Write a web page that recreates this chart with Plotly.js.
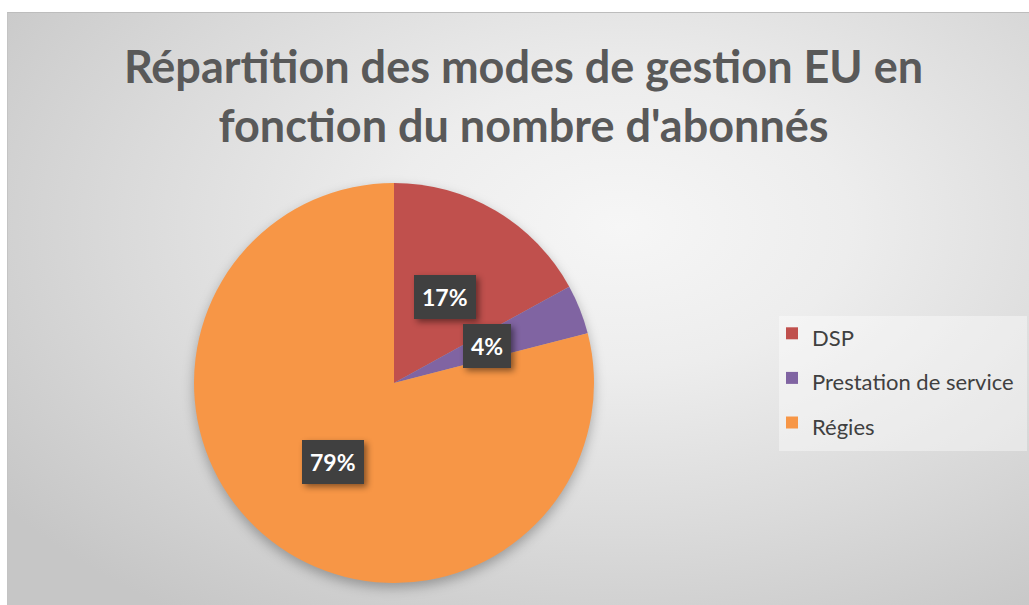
<!DOCTYPE html>
<html>
<head>
<meta charset="utf-8">
<script src="https://cdn.plot.ly/plotly-3.0.1.min.js"></script>
<style>
  html, body { margin: 0; padding: 0; background: #ffffff; }
  #wrap { position: relative; width: 1029px; height: 605px; overflow: hidden; }
  #bg { position: absolute; left: 7px; top: 12px; width: 1022px; height: 593px;
        background: radial-gradient(ellipse 75% 80% at 60% 36%, #f6f6f6 0%, #ededed 30%, #dadada 65%, #c6c6c6 100%);
        border-top: 1px solid #bdbdbd; border-left: 1px solid #c4c4c4; box-sizing: border-box; }
  #chart { position: absolute; left: 0; top: 0; width: 1029px; height: 605px; }
  .pielayer g.trace { filter: drop-shadow(0px 5px 6px rgba(0,0,0,0.28)); }
  g.annotation rect.bg { filter: drop-shadow(3px 3px 3px rgba(0,0,0,0.45)); }
</style>
</head>
<body>
<div id="wrap"><div id="bg"></div><div id="chart"></div></div>
<script>
// ---- data ----
const categories = ['DSP', 'Prestation de service', 'Régies'];
const values = [17, 4, 79];
const colors = ['#C0504D', '#8064A2', '#F79646'];
const titleText = "Répartition des modes de gestion EU en<br>fonction du nombre d'abonnés";

// ---- layout geometry ----
const W = 1029, H = 605;
const cx = 394, cy = 383, R = 200;
const domX = [(cx - R) / W, (cx + R) / W];
const domY = [1 - (cy + R) / H, 1 - (cy - R) / H];

// label annotations positioned from the data (angle of each slice middle, at half radius)
const total = values.reduce((a, b) => a + b, 0);
let cum = 0;
const annotations = values.map((v, i) => {
  const mid = (cum + v / 2) / total * 2 * Math.PI;
  cum += v;
  const r = 0.5 * R;
  const px = cx + r * Math.sin(mid);
  const py = cy - r * Math.cos(mid);
  return {
    x: px / W, y: 1 - py / H, xref: 'paper', yref: 'paper',
    text: '<b>' + Math.round(v / total * 100) + '%</b>',
    showarrow: false,
    font: { family: 'Lato, "Open Sans", sans-serif', size: 23, color: '#ffffff' },
    bgcolor: '#404040', borderpad: 8, borderwidth: 0,
    xanchor: 'center', yanchor: 'middle'
  };
});

const legendLabels = categories.map(c => '<span style="font-size:22px">' + c + '</span>');

const data = [{
  type: 'pie',
  labels: legendLabels,
  values: values,
  marker: { colors: colors, line: { width: 0 } },
  sort: false,
  direction: 'clockwise',
  rotation: 0,
  textinfo: 'none',
  hoverinfo: 'label+percent',
  domain: { x: domX, y: domY }
}];

const layout = {
  width: W, height: H,
  margin: { l: 0, r: 0, t: 0, b: 0 },
  paper_bgcolor: 'rgba(0,0,0,0)',
  plot_bgcolor: 'rgba(0,0,0,0)',
  title: {
    text: '<b>' + titleText + '</b>',
    x: 523.5 / W, xanchor: 'center', xref: 'paper',
    y: 1 - 83 / H, yanchor: 'middle', yref: 'paper',
    font: { family: 'Lato, "Open Sans", sans-serif', size: 45, color: '#595959' }
  },
  showlegend: true,
  legend: {
    x: 772 / W, xanchor: 'left',
    y: 1 - 306 / H, yanchor: 'top',
    bgcolor: 'rgba(0,0,0,0)',
    borderwidth: 0,
    font: { family: 'Lato, "Open Sans", sans-serif', size: 32, color: '#404040' },
    itemwidth: 30,
    traceorder: 'normal'
  },
  shapes: [{
    type: 'rect', xref: 'paper', yref: 'paper',
    x0: 779 / W, x1: 1027 / W, y0: 1 - 451 / H, y1: 1 - 316 / H,
    fillcolor: 'rgba(255,255,255,0.4)', line: { width: 0 }, layer: 'below'
  }],
  annotations: annotations
};

Plotly.newPlot('chart', data, layout, { displayModeBar: false, staticPlot: true });
</script>
</body>
</html>
